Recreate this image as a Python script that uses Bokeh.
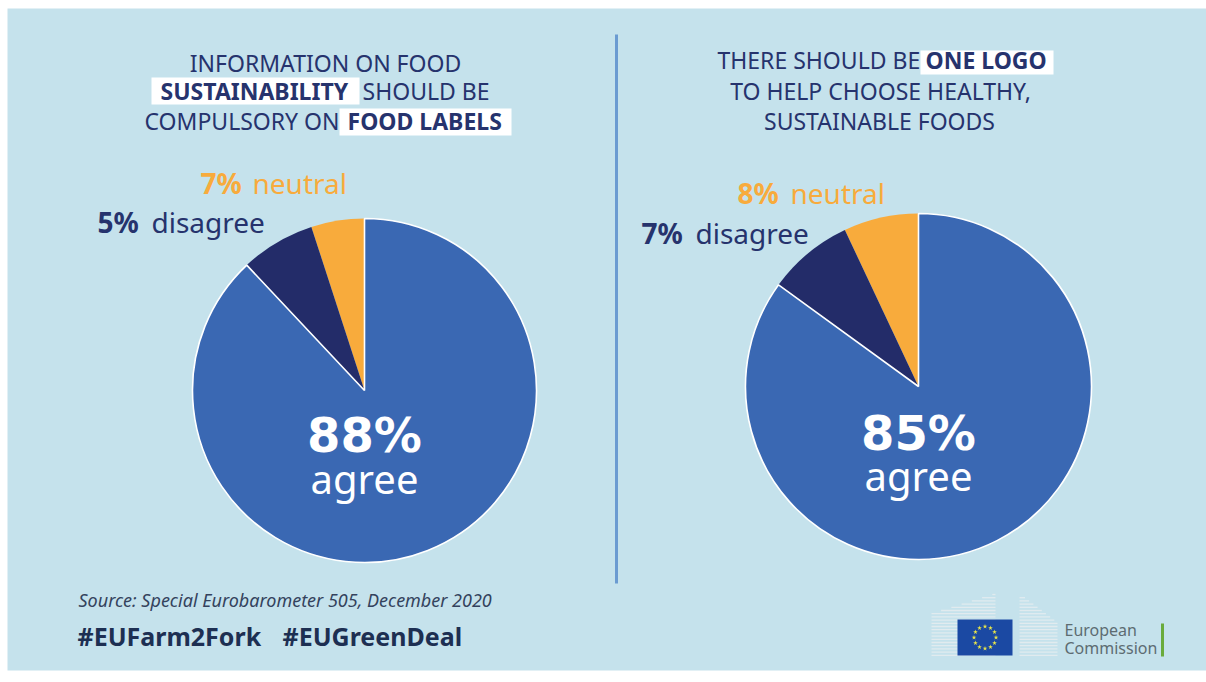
import math
from bokeh.plotting import figure
from bokeh.models import Range1d, ColumnDataSource
from bokeh.core.properties import value
from bokeh.embed import file_html
from bokeh.resources import INLINE

# ---------------- data ----------------
questions = ["food_labels", "one_logo"]
agree = [88, 85]
disagree = [5, 7]
neutral = [7, 8]
# slice sizes as drawn (anticlockwise from 12 o'clock): orange, navy, blue
slice_orange = [5, 7]
slice_navy = [7, 8]
slice_blue = [88, 85]

# ---------------- style ----------------
W, H = 1206, 682
BG = "#c5e2ec"
BLUE = "#3a68b3"
NAVY = "#232c69"
ORANGE = "#f8ab3c"
TITLE = "#26336d"
FONT = "Noto Sans"


def Y(y):
    return H - y


p = figure(width=W, height=H, x_range=Range1d(0, W), y_range=Range1d(0, H),
           output_backend="svg", toolbar_location=None,
           x_axis_type=None, y_axis_type=None, min_border=0,
           background_fill_color="white", border_fill_color="white",
           outline_line_color=None)
p.xgrid.visible = False
p.ygrid.visible = False

# panel
p.quad(left=7, right=W, top=Y(8), bottom=Y(670), fill_color=BG, line_color=None)

# divider
p.segment(x0=616, y0=Y(34), x1=616, y1=Y(583), line_color="#6b9bd1", line_width=3)

# ---------------- pies ----------------
pie_cx = [364, 918]
pie_cy = [390, 386]
pie_r = [172, 173]

xs, ys, rs, st, en, cols = [], [], [], [], [], []
bx, by, br, bst, ben = [], [], [], [], []
for i in range(len(questions)):
    total = slice_orange[i] + slice_navy[i] + slice_blue[i]
    a = math.pi / 2
    for v, c in [(slice_orange[i], ORANGE), (slice_navy[i], NAVY), (slice_blue[i], BLUE)]:
        b = a + 2 * math.pi * v / total
        if c == BLUE:
            bx.append(pie_cx[i]); by.append(Y(pie_cy[i])); br.append(pie_r[i])
            bst.append(a); ben.append(b)
        else:
            xs.append(pie_cx[i]); ys.append(Y(pie_cy[i])); rs.append(pie_r[i])
            st.append(a); en.append(b); cols.append(c)
        a = b

p.wedge(x="x", y="y", radius="r", start_angle="s", end_angle="e",
        fill_color="c", line_color=None, direction="anticlock",
        source=ColumnDataSource(dict(x=xs, y=ys, r=rs, s=st, e=en, c=cols)))
p.wedge(x="x", y="y", radius="r", start_angle="s", end_angle="e",
        fill_color=BLUE, line_color="white", line_width=1.6, direction="anticlock",
        source=ColumnDataSource(dict(x=bx, y=by, r=br, s=bst, e=ben)))

BASE_SHIFT = 0.43  # compensation for baseline placement of svg text


def txt(x, y, s, size, color, style="normal", font=FONT, align="left"):
    p.text(x=[x], y=[Y(y - BASE_SHIFT * size)], text=[s], text_font=value(font),
           text_font_size=value(f"{size}px"), text_color=color,
           text_font_style=style, text_align=align, text_baseline="alphabetic")


def box(x0, x1, y0, y1):
    p.quad(left=x0, right=x1, top=Y(y0), bottom=Y(y1), fill_color="white", line_color=None)


# ---------------- titles ----------------
box(151, 359, 77, 104)
box(339, 511, 108, 135)
txt(325, 72, "INFORMATION ON FOOD", 23, TITLE, align="center")
txt(160, 100, "SUSTAINABILITY", 23, TITLE, "bold")
txt(362, 100, "SHOULD BE", 23, TITLE)
txt(144, 130, "COMPULSORY ON", 23, TITLE)
txt(347, 130, "FOOD LABELS", 23, TITLE, "bold")

box(920, 1053, 50, 74)
txt(717, 69, "THERE SHOULD BE", 23, TITLE)
txt(925, 69, "ONE LOGO", 23, TITLE, "bold")
txt(880, 100, "TO HELP CHOOSE HEALTHY,", 23, TITLE, align="center")
txt(879, 130, "SUSTAINABLE FOODS", 23, TITLE, align="center")

# ---------------- slice labels ----------------
lab_neutral_x = [(200, 252), (737, 790)]
lab_neutral_y = [195, 205]
lab_dis_x = [(97, 151), (641, 695)]
lab_dis_y = [234, 245]
for i in range(len(questions)):
    txt(lab_neutral_x[i][0], lab_neutral_y[i], f"{neutral[i]}%", 28, ORANGE, "bold")
    txt(lab_neutral_x[i][1], lab_neutral_y[i], "neutral", 28, ORANGE)
    txt(lab_dis_x[i][0], lab_dis_y[i], f"{disagree[i]}%", 28, TITLE, "bold")
    txt(lab_dis_x[i][1], lab_dis_y[i], "disagree", 28, TITLE)

center_num_y = [455, 453]
center_agree_y = [495, 492]
for i in range(len(questions)):
    txt(pie_cx[i], center_num_y[i], f"{agree[i]}%", 48, "white", "bold",
        font="DejaVu Sans", align="center")
    txt(pie_cx[i], center_agree_y[i], "agree", 40, "white", align="center")

# ---------------- footer ----------------
txt(78, 607, "Source: Special Eurobarometer 505, December 2020", 18, "#34425d", "italic")
txt(77, 646, "#EUFarm2Fork", 25, "#1d2f52", "bold")
txt(282, 646, "#EUGreenDeal", 25, "#1d2f52", "bold")

# EC logo: building lines
seg_x0, seg_x1, seg_y = [], [], []
yy = 594.0
while yy <= 656:
    xs_left = 931 + max(0.0, (613 - yy)) / 20 * 64
    if xs_left < 995:
        seg_x0.append(xs_left); seg_x1.append(995); seg_y.append(Y(yy))
    xe_right = 1019 + max(0.0, (yy - 593)) / 29 * 38
    xe_right = min(xe_right, 1057)
    if xe_right > 1021:
        seg_x0.append(1019); seg_x1.append(xe_right); seg_y.append(Y(yy))
    yy += 3.2
p.segment(x0=seg_x0, y0=seg_y, x1=seg_x1, y1=seg_y, line_color="#e3ecef", line_width=1.3, line_alpha=0.9)
# flag
p.quad(left=957, right=1012, top=Y(619), bottom=Y(655), fill_color="#1b49a3", line_color=None)
sx = [984.5 + 11 * math.cos(2 * math.pi * k / 12) for k in range(12)]
sy = [Y(637 + 11 * math.sin(2 * math.pi * k / 12)) for k in range(12)]
p.scatter(x=sx, y=sy, marker="star", size=5, fill_color="#e6e34a", line_color=None)
txt(1064, 636, "European", 16, "#5d6c72")
txt(1064, 654, "Commission", 16, "#5d6c72")
p.segment(x0=1162, y0=Y(623), x1=1162, y1=Y(656), line_color="#6aab3c", line_width=3)

open("out.html", "w").write(file_html(p, INLINE))
